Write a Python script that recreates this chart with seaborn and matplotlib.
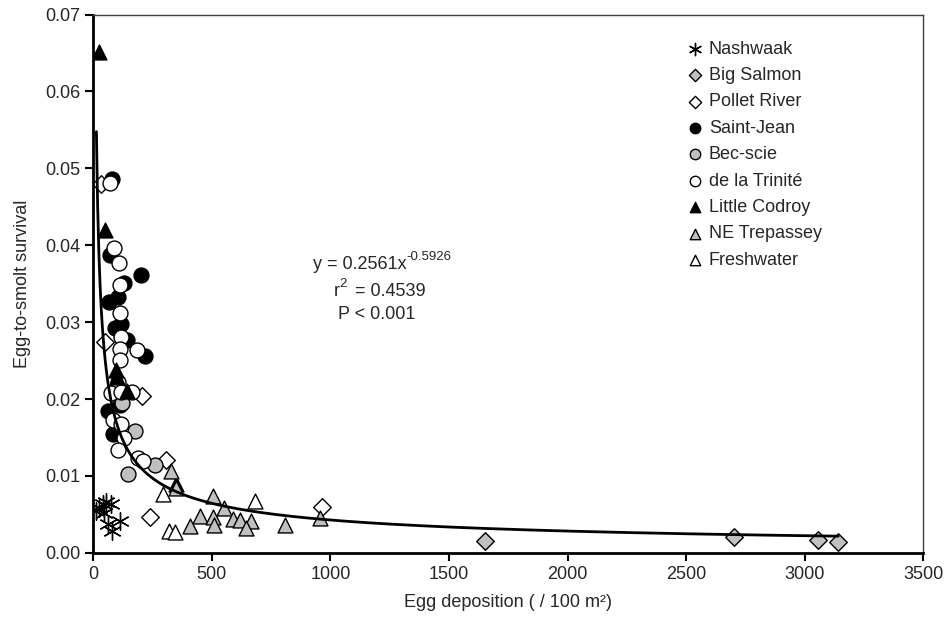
import matplotlib
matplotlib.use("Agg")
import matplotlib.pyplot as plt
import numpy as np
import pandas as pd
import seaborn as sns

# data
nashwaak_x = [10, 25, 40, 55, 75, 45, 62, 78, 115]
nashwaak_y = [0.0055, 0.0058, 0.0063, 0.0066, 0.0064, 0.0052, 0.0037, 0.0028, 0.0041]

big_salmon_x = [1652, 2701, 3055, 3141]
big_salmon_y = [0.0015, 0.0021, 0.0017, 0.00135]

pollet_x = [34, 50, 205, 305, 239, 965]
pollet_y = [0.048, 0.0274, 0.0204, 0.0121, 0.0047, 0.0059]

saint_jean_x = [79, 69, 202, 129, 104, 65, 90, 118, 143, 217, 63, 83, 112]
saint_jean_y = [0.0486, 0.0387, 0.0361, 0.0351, 0.0333, 0.0326, 0.0292, 0.0298,
                0.0277, 0.0256, 0.0185, 0.0155, 0.0192]

bec_scie_x = [178, 260, 145, 120]
bec_scie_y = [0.0158, 0.0114, 0.0103, 0.0195]

trinite_x = [69, 87, 107, 111, 114, 118, 111, 185, 114, 105, 75, 117, 162,
             83, 118, 129, 104, 188, 209]
trinite_y = [0.0481, 0.0397, 0.0377, 0.0348, 0.0312, 0.0281, 0.0265, 0.0264,
             0.0251, 0.0222, 0.0208, 0.0209, 0.0209, 0.0173, 0.0168, 0.0150,
             0.0134, 0.0123, 0.0120]

codroy_x = [25, 51, 97, 101, 143, 350]
codroy_y = [0.0651, 0.0420, 0.0238, 0.0229, 0.0211, 0.0090]

trepassey_x = [330, 350, 504, 553, 451, 504, 406, 509, 588, 620, 665, 646, 810, 955]
trepassey_y = [0.0107, 0.0084, 0.0074, 0.0058, 0.0048, 0.0047, 0.0035, 0.0036,
               0.0044, 0.0043, 0.0041, 0.0032, 0.0036, 0.0045]

freshwater_x = [293, 682, 318, 346]
freshwater_y = [0.0077, 0.0068, 0.0028, 0.0027]

fit_a = 0.2561
fit_b = -0.5926

GREY = "#c0c0c0"
series = [
    ("Nashwaak", nashwaak_x, nashwaak_y, (6, 2, 0), "black"),
    ("Big Salmon", big_salmon_x, big_salmon_y, "D", GREY),
    ("Pollet River", pollet_x, pollet_y, "D", "white"),
    ("Saint-Jean", saint_jean_x, saint_jean_y, "o", "black"),
    ("Bec-scie", bec_scie_x, bec_scie_y, "o", GREY),
    ("de la Trinité", trinite_x, trinite_y, "o", "white"),
    ("Little Codroy", codroy_x, codroy_y, "^", "black"),
    ("NE Trepassey", trepassey_x, trepassey_y, "^", GREY),
    ("Freshwater", freshwater_x, freshwater_y, "^", "white"),
]

sns.set_style("white")
plt.rcParams["font.family"] = ["Liberation Sans", "DejaVu Sans"]
plt.rcParams["font.size"] = 13

fig = plt.figure(figsize=(9.51, 6.34), dpi=100)
ax = fig.add_axes([0.098, 0.128, 0.873, 0.849])

for name, xs, ys, mk, fc in series:
    df = pd.DataFrame({"egg": xs, "surv": ys})
    if mk == (6, 2, 0):
        sns.scatterplot(data=df, x="egg", y="surv", ax=ax, marker=mk, s=160,
                        color="black", linewidth=1.0, label=name)
    else:
        size = 80 if mk == "D" else 115
        sns.scatterplot(data=df, x="egg", y="surv", ax=ax, marker=mk, s=size,
                        facecolor=fc, edgecolor="black", linewidth=1.0, label=name)

# power trend line
xfit = np.linspace(13.5, 3141, 600)
ax.plot(xfit, fit_a * xfit ** fit_b, color="black", lw=2, zorder=1)

eq = ax.text(0.342 + 0.035, 0.535, "y = 0.2561x", transform=ax.transAxes,
             ha="right", va="center", fontsize=13)
ax.annotate("-0.5926", xy=(1.0, 0.62), xycoords=eq, ha="left", va="bottom",
            fontsize=9.5)
r2 = ax.text(0.342 - 0.045, 0.485, "r", transform=ax.transAxes, ha="right",
             va="center", fontsize=13)
ax.annotate("2", xy=(1.0, 0.62), xycoords=r2, ha="left", va="bottom",
            fontsize=9.5)
ax.text(0.342 - 0.027, 0.485, "= 0.4539", transform=ax.transAxes,
        ha="left", va="center", fontsize=13)
ax.text(0.342, 0.442, "P < 0.001", transform=ax.transAxes,
        ha="center", va="center", fontsize=13)

ax.set_xlim(0, 3500)
ax.set_ylim(0, 0.07)
ax.set_xticks(np.arange(0, 3501, 500))
ax.set_yticks(np.arange(0, 0.0701, 0.01))
ax.yaxis.set_major_formatter(matplotlib.ticker.FormatStrFormatter("%.2f"))
ax.tick_params(direction="out", length=6, width=1.5, labelsize=13,
               left=True, bottom=True, color="black")
for side in ["left", "bottom"]:
    ax.spines[side].set_linewidth(2)
    ax.spines[side].set_color("black")
for side in ["top", "right"]:
    ax.spines[side].set_linewidth(1)
    ax.spines[side].set_color("#404040")

ax.set_xlabel("Egg deposition ( / 100 m²)", fontsize=13, labelpad=8)
ax.set_ylabel("Egg-to-smolt survival", fontsize=13, labelpad=10)

ax.legend(frameon=False, loc="upper left", bbox_to_anchor=(0.7055, 0.965),
          handlelength=1.0, handletextpad=0.25, labelspacing=0.52,
          markerscale=0.7, fontsize=13, borderaxespad=0)

fig.savefig("out.png", dpi=100)
